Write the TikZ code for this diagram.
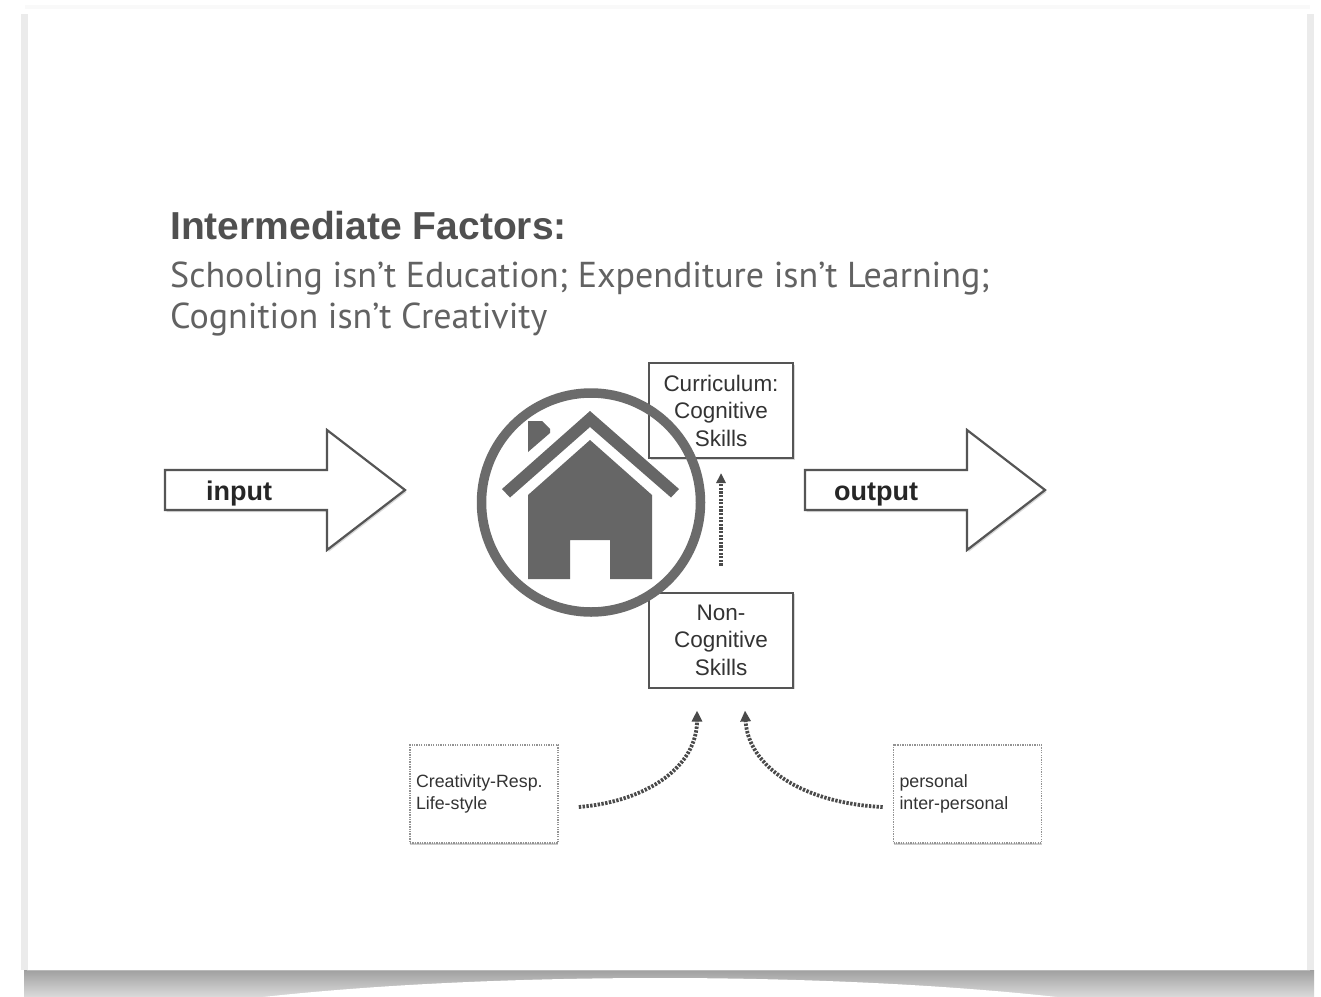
\documentclass[tikz,border=0pt]{standalone}
\usepackage{fontspec}
\setmainfont{Liberation Sans}
\newfontfamily\subfont{PT Sans}
\usetikzlibrary{arrows.meta,calc,shadows}
\definecolor{ink}{HTML}{555555}
\definecolor{dotink}{HTML}{4A4A4A}
\definecolor{titleg}{HTML}{505050}
\definecolor{subg}{HTML}{626262}
\definecolor{houseg}{HTML}{666666}
\definecolor{ringg}{HTML}{6B6B6B}
\tikzset{
  bigarrow/.style={draw=ink, line width=2.2pt, fill=white, line join=miter,
    drop shadow={shadow xshift=1.5pt, shadow yshift=-2pt, fill=gray!60, opacity=0.5}},
  skillbox/.style={draw=ink, line width=2pt, fill=white, minimum width=144pt,
    minimum height=95pt, inner sep=0pt, align=center, text=black!80,
    font=\fontsize{22.5}{27.5}\selectfont,
    drop shadow={shadow xshift=1.5pt, shadow yshift=-1.5pt, fill=gray!60, opacity=0.5}},
  dotbox/.style={draw=gray!85, line width=1.6pt, dash pattern=on 1.3pt off 1.1pt,
    fill=white, minimum width=148pt, minimum height=98pt, inner sep=6pt,
    text width=136pt, align=left, text=black!80, font=\fontsize{17.8}{22}\selectfont,
    drop shadow={shadow xshift=0pt, shadow yshift=-2pt, fill=gray!55, opacity=0.7}},
  dotarrow/.style={draw=dotink, line width=3.8pt, dash pattern=on 2.4pt off 1.4pt,
    -{Triangle[length=11pt,width=10pt]}},
  thindot/.style={draw=dotink, line width=3.2pt, dash pattern=on 2.2pt off 1.4pt,
    -{Triangle[length=10pt,width=9pt]}},
  bigtext/.style={font=\fontsize{27}{30}\selectfont\bfseries, text=black!85, inner sep=0pt},
}
\begin{document}
\begin{tikzpicture}[x=1pt,y=-1pt]
\useasboundingbox (0,0) rectangle (1321,996);
\fill[white] (0,0) rectangle (1321,996);
% card edges
\fill[gray!16] (21,14) rectangle (28,970);
\fill[gray!16] (1307,14) rectangle (1314,970);
\fill[gray!5] (25,5) rectangle (1310,9);
% bottom shadow
\shade[top color=gray!75, bottom color=gray!30] (24,970) rectangle (1314,996);
\fill[white] (660,1060) ellipse [x radius=620, y radius=82];
\draw[gray!55, line width=1pt] (27,970) -- (1310,970);

% titles
\node[anchor=base west, inner sep=0pt, text=titleg, font=\fontsize{39}{44}\selectfont\bfseries] (title) at (170,239) {Intermediate Factors:};
\node[anchor=base west, inner sep=0pt, text=subg, font=\subfont\fontsize{36}{41}\selectfont] (sub1) at (170,287) {Schooling isn’t Education; Expenditure isn’t Learning;};
\node[anchor=base west, inner sep=0pt, text=subg, font=\subfont\fontsize{36}{41}\selectfont] (sub2) at (170,328) {Cognition isn’t Creativity};

% big arrows
\filldraw[bigarrow] (165,470) -- (327,470) -- (327,430) -- (405,490) -- (327,550) -- (327,510) -- (165,510) -- cycle;
\filldraw[bigarrow] (805,470) -- (967,470) -- (967,430) -- (1045,490) -- (967,550) -- (967,510) -- (805,510) -- cycle;
\node[bigtext, anchor=base] (in) at (239,500) {input};
\node[bigtext, anchor=base] (out) at (876,500) {output};

% skill boxes
\node[skillbox] (curr) at (721,410.5) {Curriculum:\\Cognitive\\Skills};
\node[skillbox] (noncog) at (721,640) {Non-\\Cognitive\\Skills};

% house icon
\draw[ringg, line width=9.5pt] (591,502.5) circle [radius=109.5];
\fill[houseg] (502,489) -- (590,411) -- (679,489) -- (671,497.5) -- (590,427) -- (510,497.5) -- cycle;
\fill[houseg] (528,421) -- (542,421) -- (550,429) -- (550,433) -- (528,452) -- cycle;
\fill[houseg] (590,440) -- (652,495) -- (652,579) -- (610,579) -- (610,540) -- (570,540) -- (570,579) -- (528,579) -- (528,495) -- cycle;

% dotted boxes
\node[dotbox] (lbox) at (484,794) {Creativity-Resp.\\Life-style};
\node[dotbox] (rbox) at (967.5,794) {personal\\inter-personal};

% connectors
\draw[thindot, shorten <=26pt, shorten >=14pt] (noncog.north) -- (curr.south);
\draw[dotarrow] ([xshift=20pt,yshift=-13pt]lbox.east) .. controls (650,801) and (697,765) .. ([xshift=-24pt,yshift=-22pt]noncog.south);
\draw[dotarrow] ([xshift=-10pt,yshift=-13pt]rbox.west) .. controls (800,803) and (748,765) .. ([xshift=24pt,yshift=-22pt]noncog.south);
\end{tikzpicture}
\end{document}
